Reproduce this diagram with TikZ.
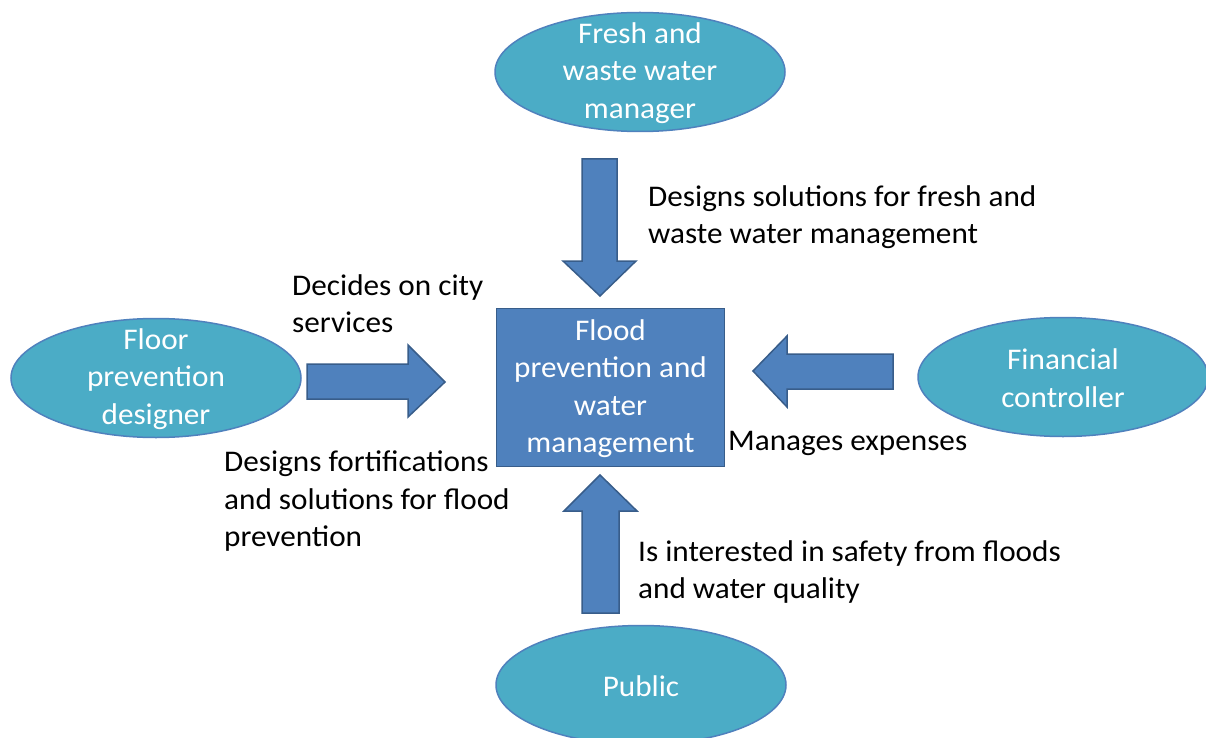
\documentclass[tikz,border=0pt]{standalone}
\usepackage{fontspec}
\setmainfont[FakeStretch=1.04]{Carlito}
\usetikzlibrary{shapes.geometric}
\definecolor{aqua}{HTML}{4BACC6}
\definecolor{aquaedge}{HTML}{4F81BD}
\definecolor{boxfill}{HTML}{4F81BD}
\definecolor{boxedge}{HTML}{385D8A}
\begin{document}
\begin{tikzpicture}[x=1pt,y=-1pt,
  actor/.style={ellipse, draw=aquaedge, line width=1.5pt, fill=aqua,
    minimum width=290pt, minimum height=119pt, inner sep=0pt},
  wtext/.style={text=white, inner sep=0pt, align=center,
    font=\fontsize{30}{37.5}\selectfont},
  core/.style={rectangle, draw=boxedge, line width=1.5pt, fill=boxfill,
    minimum width=228pt, minimum height=158pt, inner sep=0pt},
  blockarrow/.style={draw=boxedge, line width=1.5pt, fill=boxfill, line join=miter},
  lbl/.style={anchor=north west, align=left, inner sep=0pt, text=black,
    font=\fontsize{30}{37.5}\selectfont}]
\useasboundingbox (0,0) rectangle (1206,738);
\fill[white] (0,0) rectangle (1206,738);

% nodes
\node[actor] (fresh) at (640,72) {};
\node[wtext] (freshT) at ([yshift=-1pt]fresh.center) {Fresh and\\waste water\\manager};
\node[actor] (floor) at (156,378) {};
\node[wtext] (floorT) at ([yshift=-1pt]floor.center) {Floor\\prevention\\designer};
\node[actor] (fin) at (1063,377) {};
\node[wtext] (finT) at ([yshift=-1pt]fin.center) {Financial\\controller};
\node[actor] (pub) at (641,685) {};
\node[wtext] (pubT) at ([yshift=-1pt]pub.center) {Public};
\node[core] (flood) at (610.5,387.5) {};
\node[wtext] (floodT) at ([yshift=-1pt]flood.center) {Flood\\prevention and\\water\\management};

% block arrows
\draw[blockarrow] (582,159) -- (617,159) -- (617,261) -- (636,261) -- (600,296)
  -- (563,261) -- (582,261) -- cycle;
\draw[blockarrow] (307,364) -- (408,364) -- (408,345) -- (445,382) -- (408,417)
  -- (408,399) -- (307,399) -- cycle;
\draw[blockarrow] (893,354) -- (787,354) -- (787,336) -- (753,371) -- (787,407)
  -- (787,389) -- (893,389) -- cycle;
\draw[blockarrow] (582,613) -- (582,511) -- (564,511) -- (600,475) -- (637,511)
  -- (619,511) -- (619,613) -- cycle;

% labels
\node[lbl] (l1) at (648,185) {Designs solutions for fresh and\\waste water management};
\node[lbl] (l2) at (292,274) {Decides on city\\services};
\node[lbl] (l3) at (224,451) {Designs fortifications\\and solutions for flood\\prevention};
\node[lbl] (l4) at (728,431) {Manages expenses};
\node[lbl] (l5) at (638,540) {Is interested in safety from floods\\and water quality};
\end{tikzpicture}
\end{document}
